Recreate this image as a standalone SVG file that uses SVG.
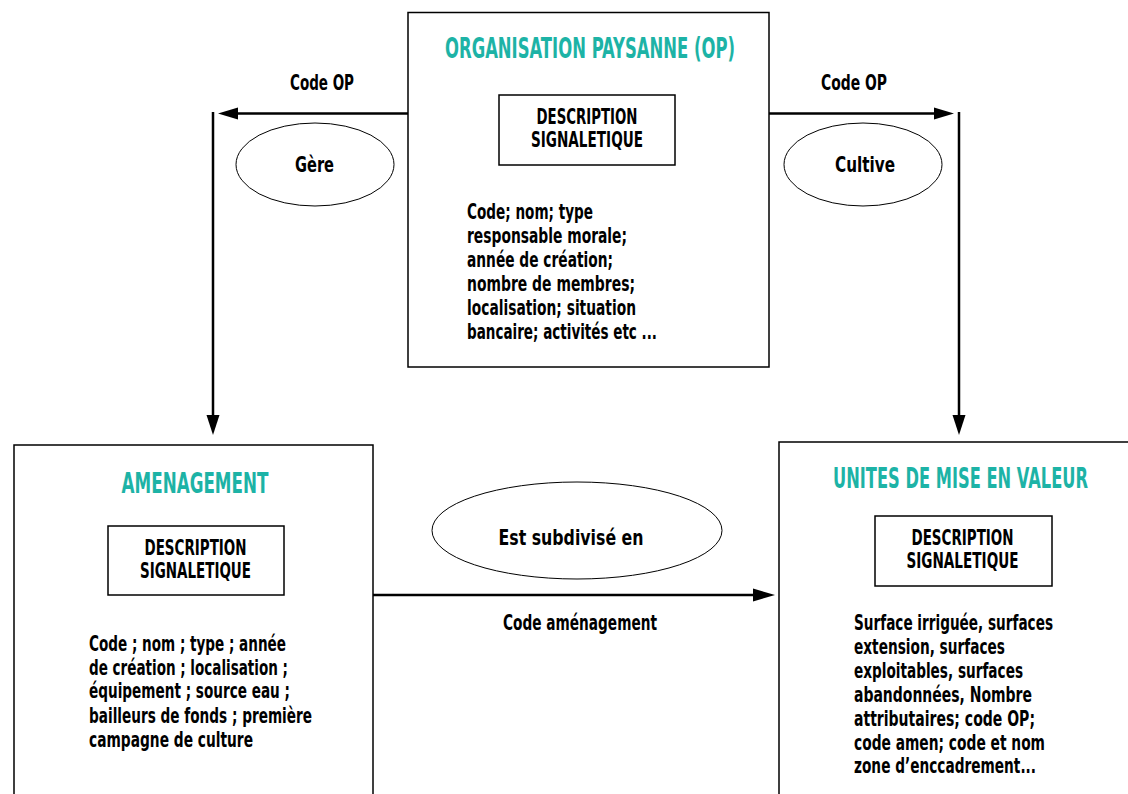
<svg xmlns="http://www.w3.org/2000/svg" width="1128" height="794" viewBox="0 0 1128 794">
<style>
text{font-family:"Liberation Sans Narrow","DejaVu Sans Condensed","Liberation Sans",sans-serif;font-weight:bold;font-stretch:condensed;fill:#000}
.title{font-size:29px;fill:#1db3a6;text-anchor:middle}
.desc{font-size:22px;text-anchor:middle}
.body{font-size:20.5px}
.lbl{font-size:20.5px;text-anchor:middle}
.box{fill:#fff;stroke:#000;stroke-width:1.5}
.ell{fill:#fff;stroke:#000;stroke-width:1}
.ln{fill:none;stroke:#000;stroke-width:2.5}
.ah{fill:#000;stroke:none}
</style>
<rect width="1128" height="794" fill="#fff"/>
<g id="connectors">
<path class="ln" d="M408,113.5 H234"/>
<polygon class="ah" points="218,113.5 238,107.5 238,119.5"/>
<path class="ln" d="M213,112 V418"/>
<polygon class="ah" points="213,435 206.5,415 219.5,415"/>
<path class="ln" d="M769,113.5 H938"/>
<polygon class="ah" points="954,113.5 934,107.5 934,119.5"/>
<path class="ln" d="M959,112 V418"/>
<polygon class="ah" points="959,435 952.5,415 965.5,415"/>
<path class="ln" d="M373,595 H757"/>
<polygon class="ah" points="775,595 753,588.5 753,601.5"/>
<text class="lbl" x="322" y="90" textLength="64" lengthAdjust="spacingAndGlyphs">Code OP</text>
<text class="lbl" x="854" y="90" textLength="66" lengthAdjust="spacingAndGlyphs">Code OP</text>
<text class="lbl" x="580" y="630" textLength="154" lengthAdjust="spacingAndGlyphs">Code aménagement</text>
</g>
<g id="rel-gere">
<ellipse class="ell" cx="315" cy="164.5" rx="79" ry="41.5"/>
<text class="lbl" x="314.5" y="172" textLength="39" lengthAdjust="spacingAndGlyphs">Gère</text>
</g>
<g id="rel-cultive">
<ellipse class="ell" cx="863" cy="164.5" rx="79" ry="41.5"/>
<text class="lbl" x="865" y="172" textLength="60" lengthAdjust="spacingAndGlyphs">Cultive</text>
</g>
<g id="rel-subdivise">
<ellipse class="ell" cx="577" cy="530.5" rx="145" ry="48.5"/>
<text class="lbl" x="571" y="545" textLength="145" lengthAdjust="spacingAndGlyphs">Est subdivisé en</text>
</g>
<g id="node-op">
<rect class="box" x="408" y="12.5" width="361" height="354.5"/>
<text class="title" x="590" y="58" textLength="290" lengthAdjust="spacingAndGlyphs">ORGANISATION PAYSANNE (OP)</text>
<rect class="box" x="499" y="95" width="176" height="70"/>
<text class="desc" x="587" y="124" textLength="101" lengthAdjust="spacingAndGlyphs">DESCRIPTION</text>
<text class="desc" x="587" y="147" textLength="112" lengthAdjust="spacingAndGlyphs">SIGNALETIQUE</text>
<text class="body" x="467" y="219" textLength="126" lengthAdjust="spacingAndGlyphs">Code; nom; type</text>
<text class="body" x="467" y="243" textLength="160" lengthAdjust="spacingAndGlyphs">responsable morale;</text>
<text class="body" x="467" y="267" textLength="146" lengthAdjust="spacingAndGlyphs">année de création;</text>
<text class="body" x="467" y="291" textLength="168" lengthAdjust="spacingAndGlyphs">nombre de membres;</text>
<text class="body" x="467" y="315" textLength="169" lengthAdjust="spacingAndGlyphs">localisation; situation</text>
<text class="body" x="467" y="339" textLength="190" lengthAdjust="spacingAndGlyphs">bancaire; activités etc ...</text>
</g>
<g id="node-amenagement">
<rect class="box" x="14" y="445" width="359" height="400"/>
<text class="title" x="195" y="493" textLength="147" lengthAdjust="spacingAndGlyphs">AMENAGEMENT</text>
<rect class="box" x="108" y="526" width="176" height="69"/>
<text class="desc" x="195.5" y="555" textLength="102" lengthAdjust="spacingAndGlyphs">DESCRIPTION</text>
<text class="desc" x="195.5" y="578" textLength="111" lengthAdjust="spacingAndGlyphs">SIGNALETIQUE</text>
<text class="body" x="89" y="651" textLength="197" lengthAdjust="spacingAndGlyphs">Code ; nom ; type ; année</text>
<text class="body" x="89" y="675" textLength="199" lengthAdjust="spacingAndGlyphs">de création ; localisation ;</text>
<text class="body" x="89" y="698" textLength="201" lengthAdjust="spacingAndGlyphs">équipement ; source eau ;</text>
<text class="body" x="89" y="723" textLength="223" lengthAdjust="spacingAndGlyphs">bailleurs de fonds ; première</text>
<text class="body" x="89" y="747" textLength="164" lengthAdjust="spacingAndGlyphs">campagne de culture</text>
</g>
<g id="node-unites">
<rect class="box" x="779" y="442" width="400" height="400"/>
<text class="title" x="960.5" y="488" textLength="255" lengthAdjust="spacingAndGlyphs">UNITES DE MISE EN VALEUR</text>
<rect class="box" x="875" y="516" width="177" height="70"/>
<text class="desc" x="962.5" y="545" textLength="102" lengthAdjust="spacingAndGlyphs">DESCRIPTION</text>
<text class="desc" x="962.5" y="568" textLength="112" lengthAdjust="spacingAndGlyphs">SIGNALETIQUE</text>
<text class="body" x="854" y="630" textLength="199" lengthAdjust="spacingAndGlyphs">Surface irriguée, surfaces</text>
<text class="body" x="854" y="654" textLength="151" lengthAdjust="spacingAndGlyphs">extension, surfaces</text>
<text class="body" x="854" y="678" textLength="169" lengthAdjust="spacingAndGlyphs">exploitables, surfaces</text>
<text class="body" x="854" y="702" textLength="178" lengthAdjust="spacingAndGlyphs">abandonnées, Nombre</text>
<text class="body" x="854" y="726" textLength="181" lengthAdjust="spacingAndGlyphs">attributaires; code OP;</text>
<text class="body" x="854" y="750" textLength="191" lengthAdjust="spacingAndGlyphs">code amen; code et nom</text>
<text class="body" x="854" y="773" textLength="182" lengthAdjust="spacingAndGlyphs">zone d’enccadrement...</text>
</g>
</svg>
